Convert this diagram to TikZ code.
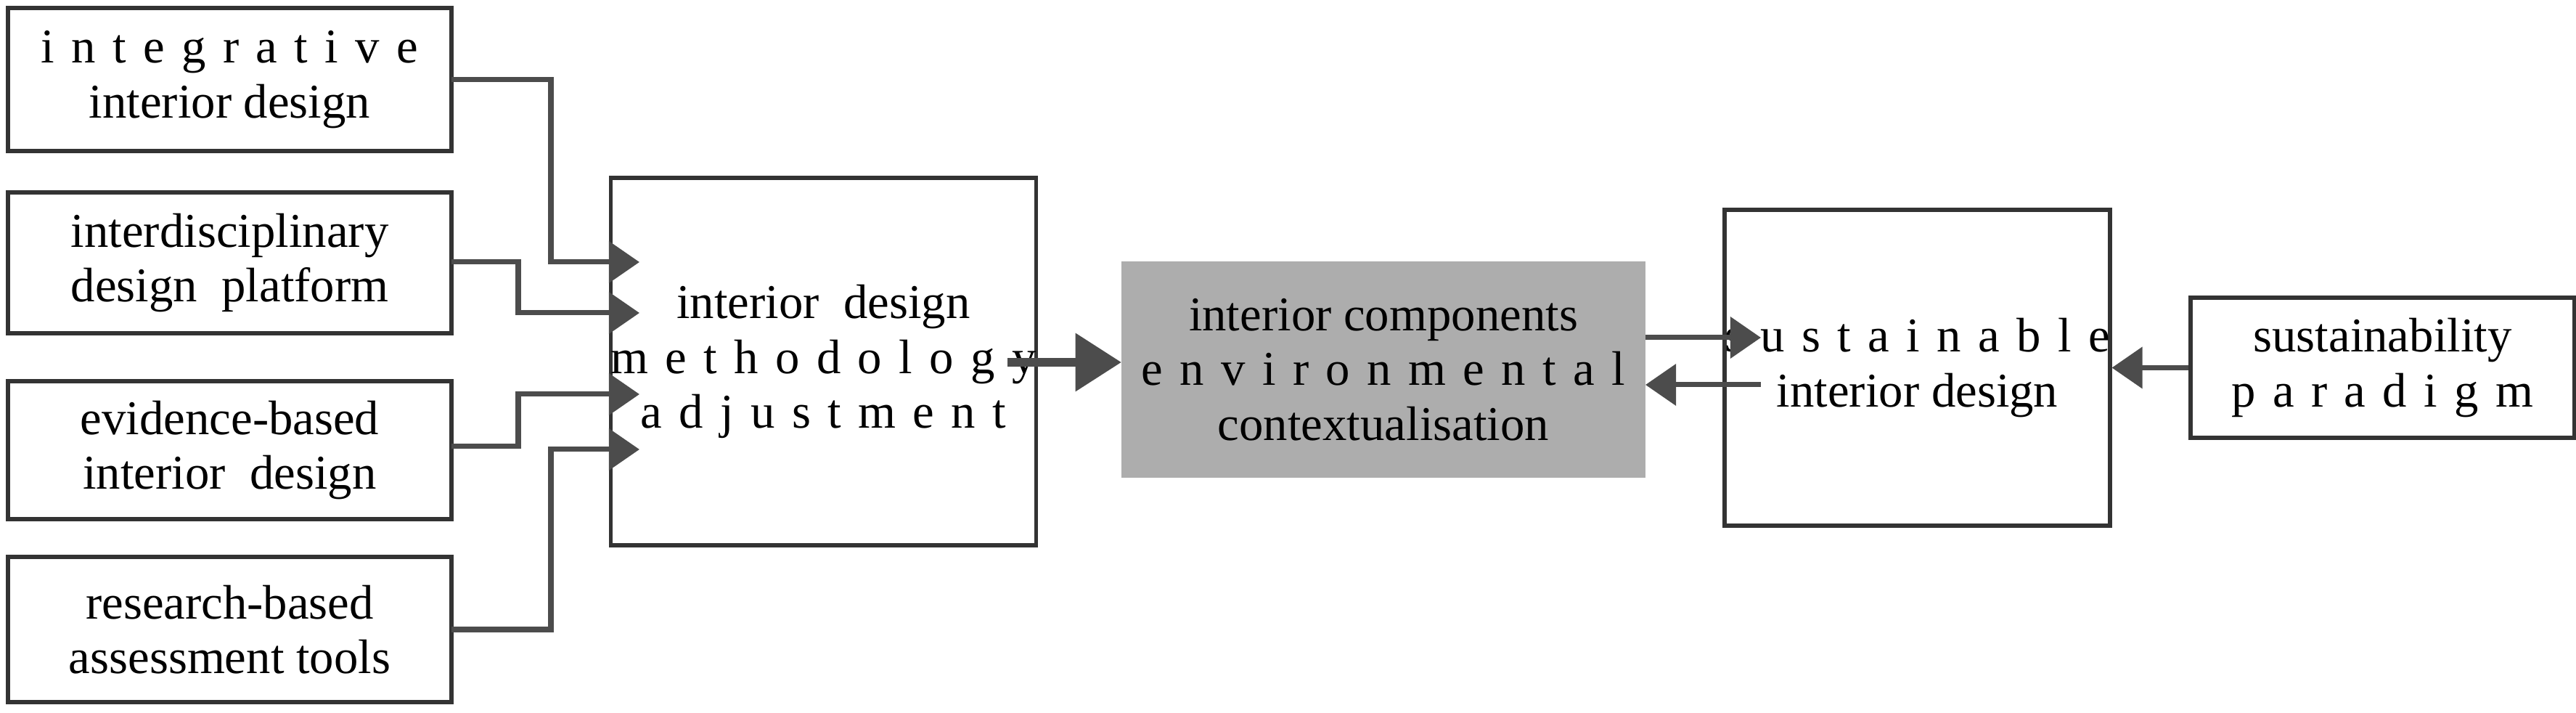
\documentclass[tikz,border=0pt]{standalone}
\usepackage{fontspec}
\setmainfont{Liberation Serif}
\usetikzlibrary{arrows.meta}
\newcommand{\ls}[1]{{\addfontfeatures{LetterSpace=35}#1}}
\begin{document}
\begin{tikzpicture}[
  box/.style={draw=black!80,line width=1.6pt,inner sep=0pt,align=center,font=\fontsize{19}{21.5}\selectfont},
  con/.style={draw=black!70,line width=2pt,-{Triangle[length=12pt,width=16pt]}},
  big/.style={draw=black!70,line width=3.5pt,-{Triangle[length=18pt,width=22pt]}}]
\useasboundingbox (0,0) rectangle (35.49,9.82);
% y = 9.82 - px/100
\node[box,minimum width=6.11cm,minimum height=1.97cm] (a) at (3.165,8.725) {\ls{integrative}\\interior design};
\node[box,minimum width=6.11cm,minimum height=1.94cm] (b) at (3.165,6.20) {interdisciplinary\\design\ \ platform};
\node[box,minimum width=6.11cm,minimum height=1.90cm] (c) at (3.165,3.62) {evidence-based\\interior\ \ design};
\node[box,minimum width=6.11cm,minimum height=2.00cm] (d) at (3.165,1.15) {research-based\\assessment tools};
\node[box,minimum width=5.07cm,minimum height=5.06cm] (m) at (11.345,4.84) {interior\ \ design\\\ls{methodology}\\\ls{adjustment}};
\node[box,draw=none,fill=black!32,minimum width=7.22cm,minimum height=2.98cm] (g) at (19.06,4.73) {interior components\\\ls{environmental}\\contextualisation};
\node[box,minimum width=4.31cm,minimum height=4.35cm] (s) at (26.415,4.755) {\ls{sustainable}\\interior design};
\node[box,minimum width=5.29cm,minimum height=1.93cm] (p) at (32.825,4.755) {sustainability\\\ls{paradigm}};
\coordinate (m1) at (8.81,6.21);
\coordinate (m2) at (8.81,5.51);
\coordinate (m3) at (8.81,4.39);
\coordinate (m4) at (8.81,3.63);
\coordinate (a1) at (6.22,8.72);
\coordinate (b1) at (6.22,6.21);
\coordinate (c1) at (6.22,3.67);
\coordinate (d1) at (6.22,1.15);
\draw[con] (a1) -| (7.59,6.21) -- (m1);
\draw[con] (b1) -| (7.14,5.51) -- (m2);
\draw[con] (c1) -| (7.14,4.39) -- (m3);
\draw[con] (d1) -| (7.59,3.63) -- (m4);
\coordinate (mo) at (13.88,4.83);
\coordinate (gi) at (15.45,4.83);
\draw[big] (mo) -- (gi);
\coordinate (g1) at (22.67,5.17);
\coordinate (s1) at (24.26,5.17);
\coordinate (g2) at (22.67,4.52);
\coordinate (s2) at (24.26,4.52);
\draw[con] (g1) -- (s1);
\draw[con] (s2) -- (g2);
\draw[con] (p.west) -- (s.east |- p.west);
\end{tikzpicture}
\end{document}
